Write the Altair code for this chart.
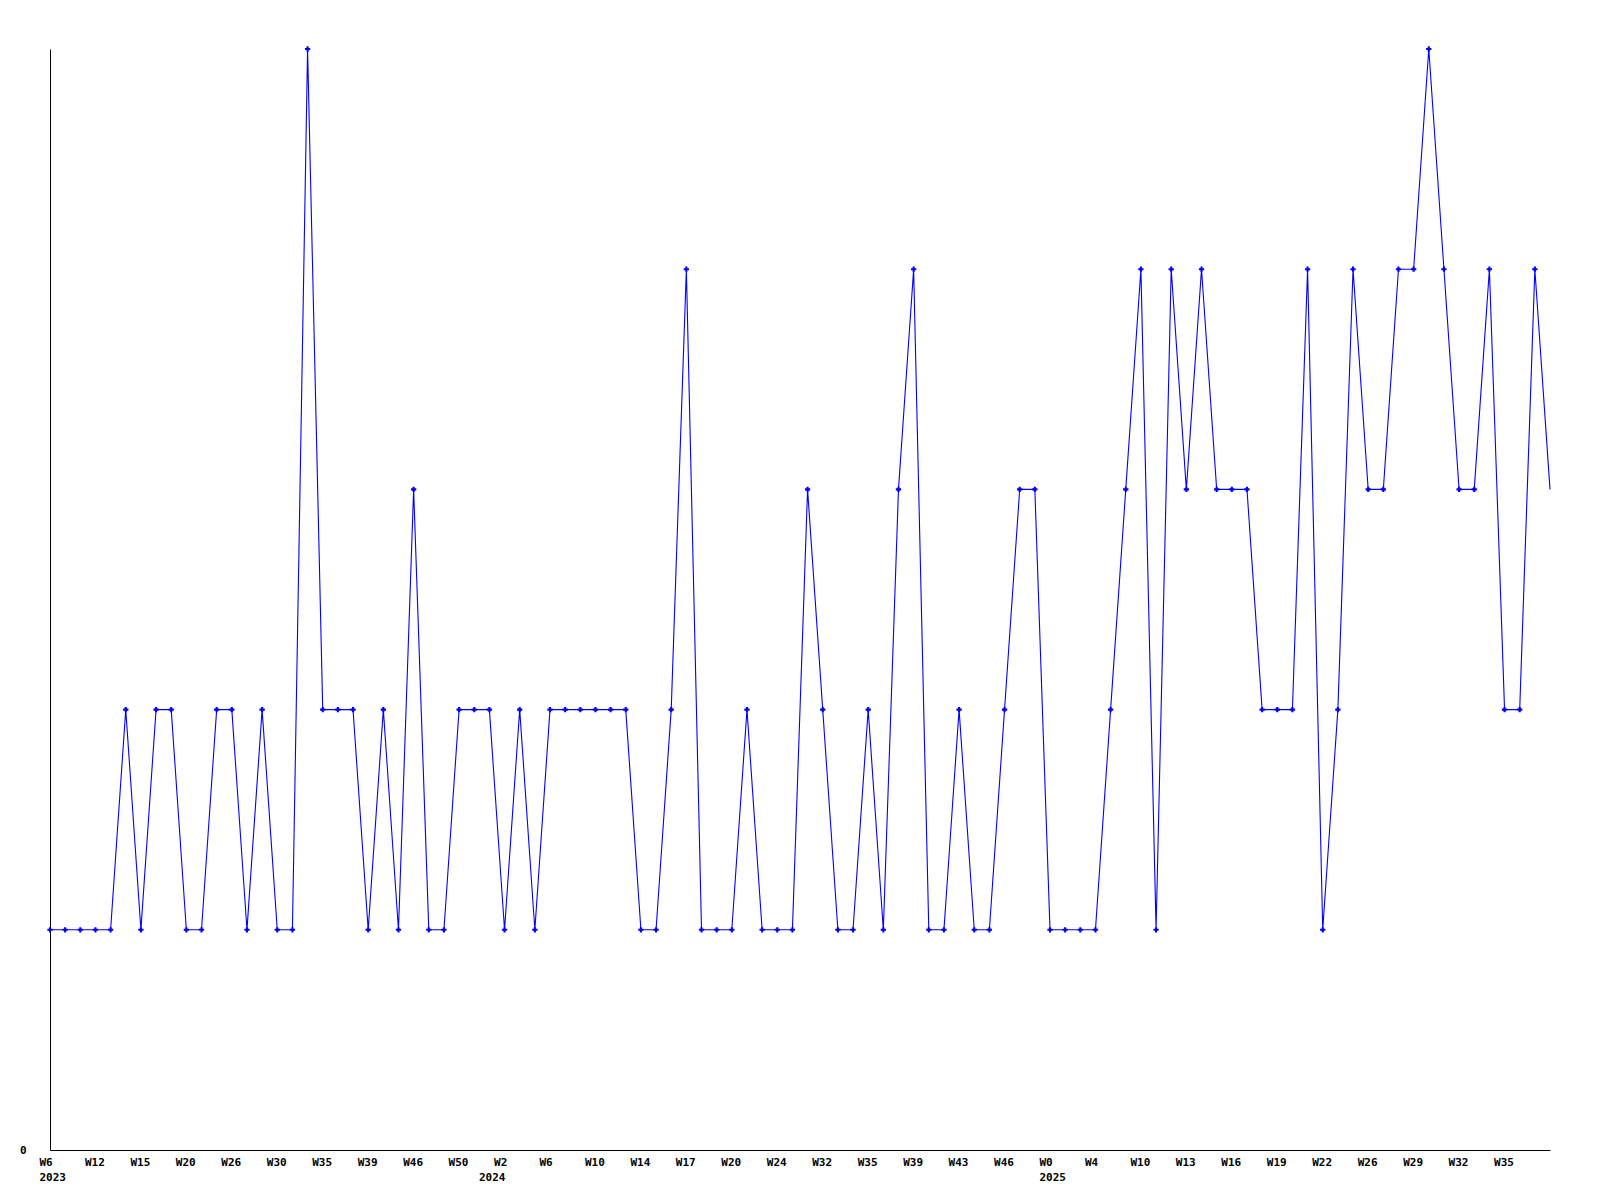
import altair as alt
import pandas as pd

values = [1, 1, 1, 1, 1, 2, 1, 2, 2, 1,
          1, 2, 2, 1, 2, 1, 1, 5, 2, 2,
          2, 1, 2, 1, 3, 1, 1, 2, 2, 2,
          1, 2, 1, 2, 2, 2, 2, 2, 2, 1,
          1, 2, 4, 1, 1, 1, 2, 1, 1, 1,
          3, 2, 1, 1, 2, 1, 3, 4, 1, 1,
          2, 1, 1, 2, 3, 3, 1, 1, 1, 1,
          2, 3, 4, 1, 4, 3, 4, 3, 3, 3,
          2, 2, 2, 4, 1, 2, 4, 3, 3, 4,
          4, 5, 4, 3, 3, 4, 2, 2, 4, 3]

tick_labels = ["W6", "W12", "W15", "W20", "W26", "W30", "W35", "W39", "W46", "W50",
               "W2", "W6", "W10", "W14", "W17", "W20", "W24", "W32", "W35", "W39",
               "W43", "W46", "W0", "W4", "W10", "W13", "W16", "W19", "W22", "W26",
               "W29", "W32", "W35"]
# year label: point index where the year starts -> year
year_points = {0: "2023", 29: "2024", 66: "2025"}

df = pd.DataFrame({"idx": list(range(len(values))), "value": values})

week_at = {i * 3: lab for i, lab in enumerate(tick_labels)}
tick_vals = sorted(set(week_at) | set(year_points))
entries = []
for i in range(len(values)):
    wk = week_at.get(i, "")
    yr = year_points.get(i)
    if yr is not None:
        entries.append("['%s','%s']" % (wk, yr))
    else:
        entries.append("'%s'" % wk)
label_expr = "[" + ",".join(entries) + "][round(datum.value)]"

font = "DejaVu Sans Mono"

x = alt.X("idx:Q", scale=alt.Scale(domain=[0, len(values) - 1], nice=False, zero=False),
          axis=alt.Axis(values=tick_vals, labelExpr=label_expr, title=None, grid=False,
                        ticks=False, domainColor="black", labelFont=font, labelFontWeight="bold",
                        labelFontSize=11, labelColor="black", labelAlign="left", labelOffset=-11,
                        labelPadding=6, labelLineHeight=15, labelOverlap=False, labelFlush=False,
                        labelBound=False))
y = alt.Y("value:Q", scale=alt.Scale(domain=[0, 5], nice=False),
          axis=alt.Axis(values=[0], title=None, grid=False, ticks=False, domainColor="black",
                        labelFont=font, labelFontWeight="bold", labelFontSize=11,
                        labelColor="black", labelPadding=24, labelBaseline="middle"))

base = alt.Chart(df)
line = base.mark_line(color="#0000FF", strokeWidth=1.1).encode(x=x, y=y)
pts = base.transform_filter(alt.datum.idx < len(values) - 1).mark_point(
    shape="cross", filled=True, size=28, color="#0000FF", opacity=1).encode(x=x, y=y)

chart = alt.layer(line, pts).properties(
    width=1500, height=1101,
    autosize=alt.AutoSizeParams(type="none"),
    padding={"left": 42, "top": 41, "right": 40, "bottom": 40},
    background="white",
).configure_view(stroke=None)

chart.save("out.html", embed_options={"renderer": "svg", "actions": False})
